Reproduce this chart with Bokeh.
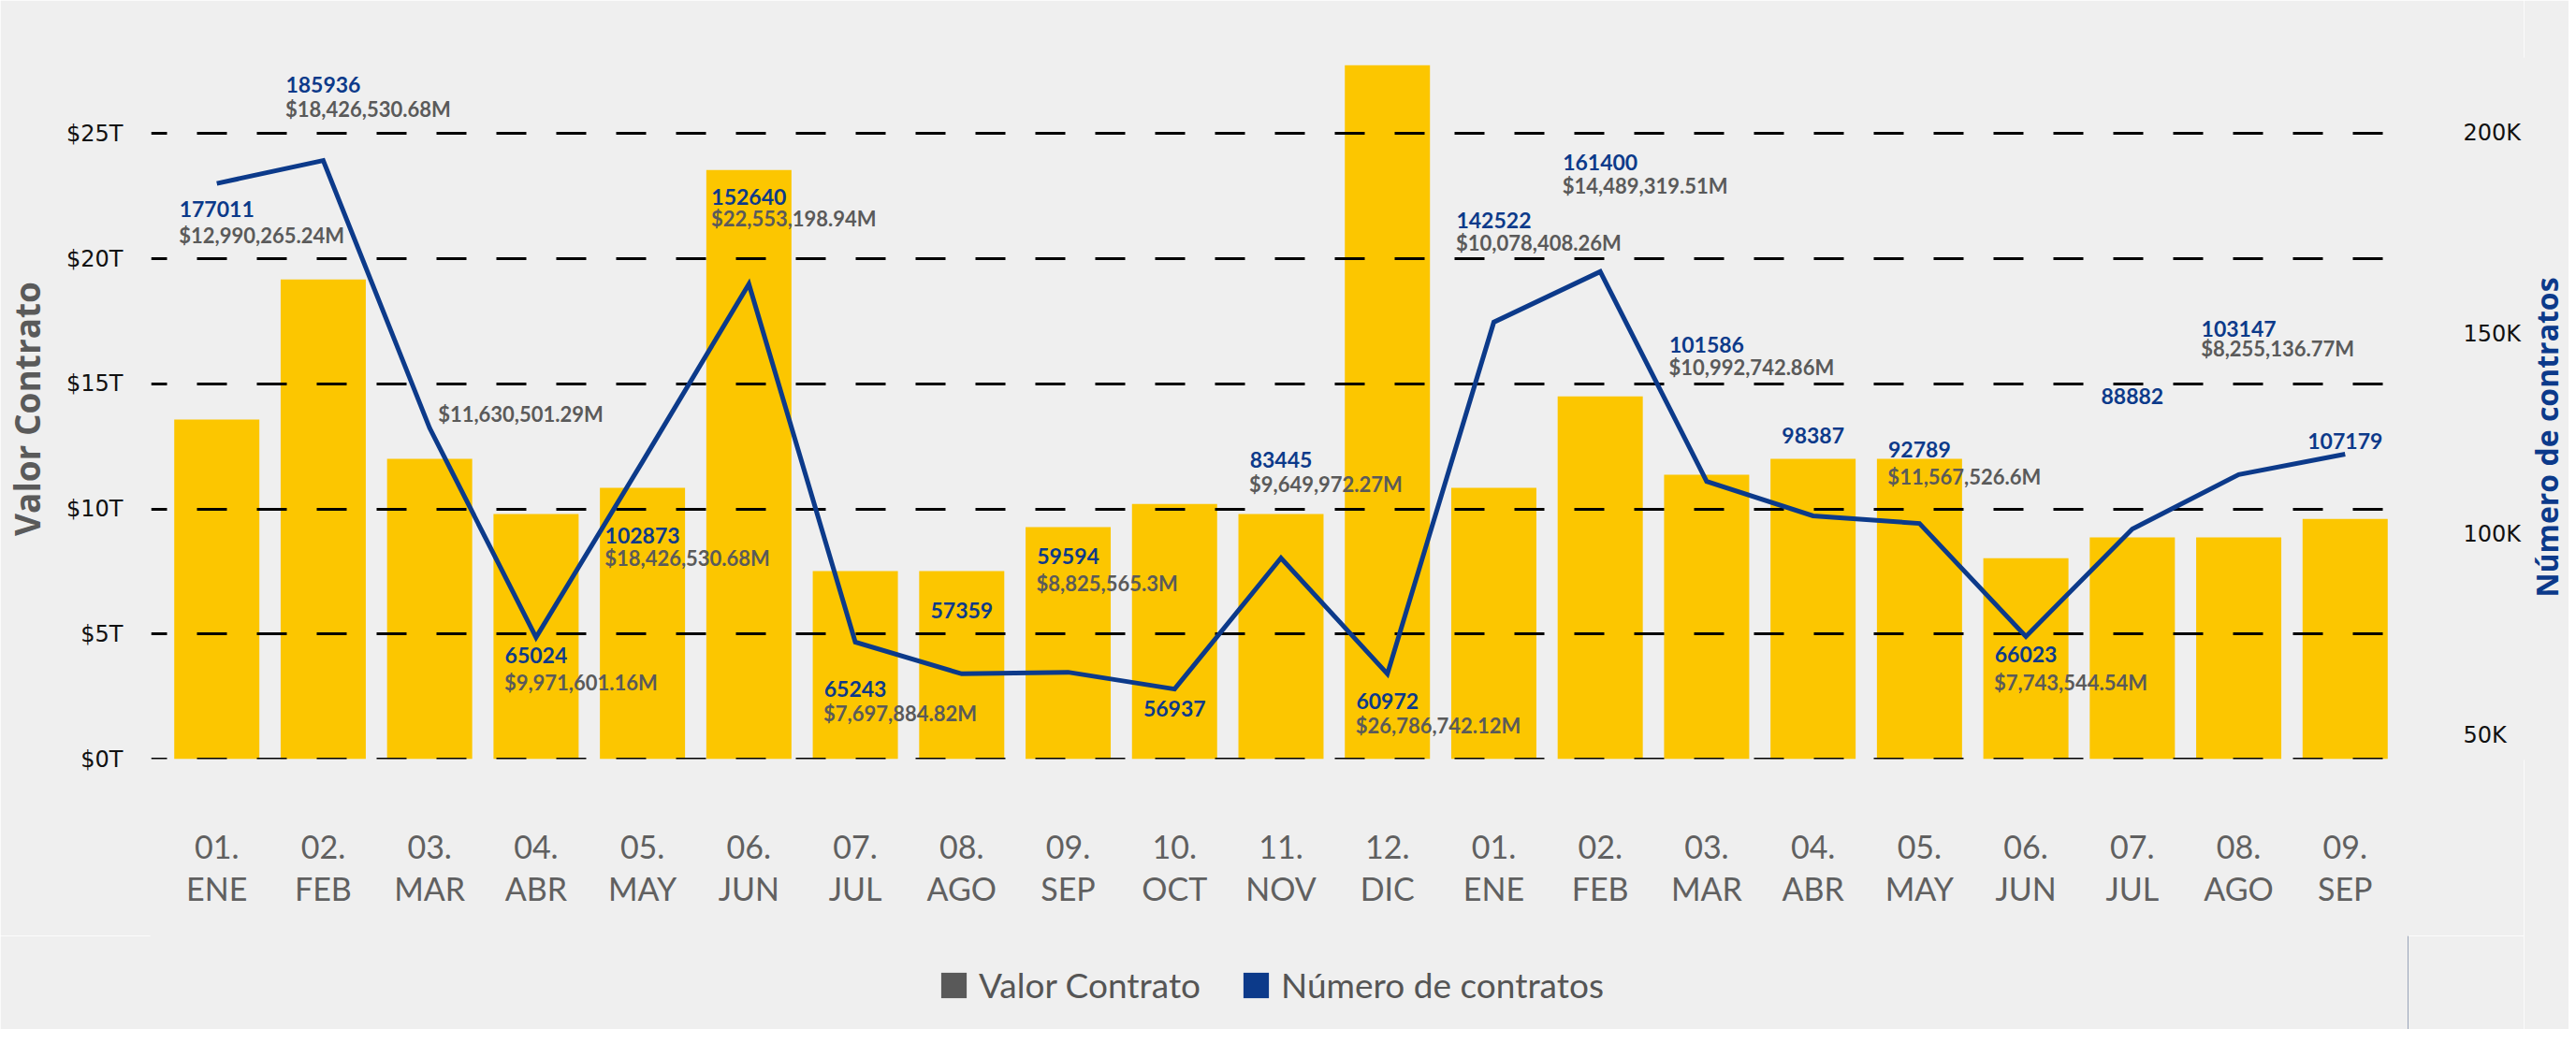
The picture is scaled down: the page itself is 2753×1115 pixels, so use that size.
import math
from bokeh.plotting import figure
from bokeh.layouts import column, row
from bokeh.models import (Range1d, LinearAxis, FixedTicker, ColumnDataSource,
                          Legend, LegendItem, Label)
from bokeh.core.properties import value
from bokeh.embed import file_html
from bokeh.resources import INLINE

# ---------------- data ----------------
months = ["01.\nENE", "02.\nFEB", "03.\nMAR", "04.\nABR", "05.\nMAY", "06.\nJUN",
          "07.\nJUL", "08.\nAGO", "09.\nSEP", "10.\nOCT", "11.\nNOV", "12.\nDIC",
          "01.\nENE", "02.\nFEB", "03.\nMAR", "04.\nABR", "05.\nMAY", "06.\nJUN",
          "07.\nJUL", "08.\nAGO", "09.\nSEP"]

# Valor Contrato (trillions)
valor_contrato = [13.57, 19.17, 12.00, 9.79, 10.84, 23.54, 7.51, 7.51, 9.27, 10.20, 9.79,
                  27.73, 10.84, 14.50, 11.36, 12.00, 12.00, 8.03, 8.86, 8.86, 9.60]

num_contratos = [187500, 193200, 126500, 74300, 118100, 162400, 73100, 65200, 65600,
                 61400, 94100, 65200, 152900, 165500, 113200, 104600, 102700, 74500,
                 101300, 114900, 120000]

count_labels = ["177011", "185936", "", "65024", "102873", "152640", "65243", "57359",
                "59594", "56937", "83445", "60972", "142522", "161400", "101586",
                "98387", "92789", "66023", "88882", "103147", "107179"]

value_labels = ["$12,990,265.24M", "$18,426,530.68M", "$11,630,501.29M", "$9,971,601.16M",
                "$18,426,530.68M", "$22,553,198.94M", "$7,697,884.82M", "",
                "$8,825,565.3M", "", "$9,649,972.27M", "$26,786,742.12M",
                "$10,078,408.26M", "$14,489,319.51M", "$10,992,742.86M", "",
                "$11,567,526.6M", "$7,743,544.54M", "", "$8,255,136.77M", ""]

left_ticks = [0, 5, 10, 15, 20, 25]
left_tick_labels = ["$0T", "$5T", "$10T", "$15T", "$20T", "$25T"]
right_ticks = [50000, 100000, 150000, 200000]
right_tick_labels = ["50K", "100K", "150K", "200K"]

legend_labels = ["Valor Contrato", "Número de contratos"]
right_title = "Número de contratos"

# ---------------- style ----------------
BG = "#EFEFEF"
YELLOW = "#FCC600"
BLUE = "#0C3A8A"
GRAY = "#5A5A5A"
LEGEND_COLORS = ["#595959", BLUE]

# label offsets in pixels (screen, positive = down) relative to line points
count_dy = [27, -81, 0, 19, 79, -93, 50, -68, -124, 21, -105, 29, -109, -117, -146,
            -86, -79, 19, -142, -156, -14]
value_dy = [55, -55, -15, 48, 103, -70, 76, 0, -95, 0, -79, 55, -85, -92, -122,
            0, -50, 49, 0, -135, 0]
value_dx = [(-6.4 * len(c) - 2) if c else 9 for c in count_labels]

W_TITLE = 48
W = 2745 - W_TITLE
H1, H2 = 1000, 100
ML, MT = 157, 62
FRAME_W, FRAME_H = 2422, 749
MR = W - ML - FRAME_W
MB = H1 - MT - FRAME_H

x_start, x_end = -0.6173, 20.591
y_left = (0, 28)
y_right = (43940, 218660)

def px_y(py):
    # page pixel row -> left-axis data value (frame spans page rows 70..819)
    return y_left[0] + (819 - py) * (y_left[1] - y_left[0]) / FRAME_H

def styled(fig):
    fig.background_fill_color = BG
    fig.border_fill_color = BG
    fig.outline_line_color = BG      # hides anti-aliasing seams at the frame edge
    fig.outline_line_width = 2
    fig.xgrid.visible = False
    fig.ygrid.visible = False
    return fig

p = styled(figure(width=W, height=H1, x_range=Range1d(x_start, x_end),
                  y_range=Range1d(*y_left), output_backend="svg", toolbar_location=None,
                  min_border_left=ML, min_border_right=MR, min_border_top=MT,
                  min_border_bottom=MB))
p.extra_y_ranges = {"cnt": Range1d(*y_right)}

xs = list(range(len(months)))
src = ColumnDataSource(dict(x=xs, valor=valor_contrato, cnt=num_contratos,
                            clab=count_labels, vlab=value_labels,
                            cdy=count_dy, vdy=value_dy, vdx=value_dx))

p.vbar(x="x", top="valor", width=0.8, source=src, fill_color=YELLOW, line_color=None)

p.hspan(y=left_ticks, line_color="black", line_width=3, line_dash="32 32",
        line_dash_offset=15)

p.line(x="x", y="cnt", source=src, y_range_name="cnt", line_color=BLUE,
       line_width=5, line_join="miter")

p.text(x="x", y="cnt", text="clab", source=src, y_range_name="cnt",
       y_offset="cdy", text_align="center", text_baseline="middle",
       text_font=value("Lato"), text_font_style="bold", text_font_size="23px",
       text_color=BLUE)
p.text(x="x", y="cnt", text="vlab", source=src, y_range_name="cnt",
       x_offset="vdx", y_offset="vdy", text_align="left", text_baseline="middle",
       text_font=value("Lato"), text_font_style="bold", text_font_size="22px",
       text_color=GRAY)

# x axis
xa = p.xaxis[0]
xa.ticker = FixedTicker(ticks=xs)
xa.major_label_overrides = {i: m for i, m in enumerate(months)}
xa.axis_line_alpha = 0
xa.major_tick_line_alpha = 0
xa.minor_tick_line_alpha = 0
xa.major_label_standoff = 66
xa.major_label_text_font = "Lato"
xa.major_label_text_font_size = "34px"
xa.major_label_text_color = "#606060"
xa.major_label_text_line_height = 1.12

# left axis
ya = p.yaxis[0]
ya.ticker = FixedTicker(ticks=left_ticks)
ya.major_label_overrides = {t: l for t, l in zip(left_ticks, left_tick_labels)}
ya.axis_line_alpha = 0
ya.major_tick_line_alpha = 0
ya.minor_tick_line_alpha = 0
ya.major_label_standoff = 24
ya.major_label_text_font = "DejaVu Sans"
ya.major_label_text_font_size = "24px"
ya.major_label_text_color = "#111111"
ya.axis_label = "Valor Contrato"
ya.axis_label_standoff = 14
ya.axis_label_text_font = "Open Sans"
ya.axis_label_text_font_style = "bold"
ya.axis_label_text_font_size = "37px"
ya.axis_label_text_color = GRAY

# right axis
ra = LinearAxis(y_range_name="cnt", ticker=FixedTicker(ticks=right_ticks))
ra.major_label_overrides = {t: l for t, l in zip(right_ticks, right_tick_labels)}
ra.axis_line_alpha = 0
ra.major_tick_line_alpha = 0
ra.minor_tick_line_alpha = 0
ra.major_label_standoff = 53
ra.major_label_text_font = "DejaVu Sans"
ra.major_label_text_font_size = "24px"
ra.major_label_text_color = "#111111"
p.add_layout(ra, "right")

# ---------------- right-axis title strip ----------------
r = styled(figure(width=W_TITLE, height=H1 + H2, x_range=Range1d(0, W_TITLE),
                  y_range=Range1d(*y_left), output_backend="svg", toolbar_location=None,
                  min_border_left=0, min_border_right=0, min_border_top=MT,
                  min_border_bottom=MB + H2, x_axis_location=None, y_axis_location=None))
r.add_layout(Label(x=2, y=px_y(475), text=right_title, angle=math.pi / 2,
                   text_align="center", text_baseline="top",
                   text_font="Open Sans", text_font_style="bold",
                   text_font_size="32px", text_color=BLUE))

# ---------------- legend strip below the chart ----------------
q = styled(figure(width=W, height=H2, x_range=Range1d(0, 1), y_range=Range1d(0, 1),
                  output_backend="svg", toolbar_location=None, min_border=0,
                  x_axis_location=None, y_axis_location=None))
leg_src = ColumnDataSource(dict(x=[10], top=[1]))   # off-screen, legend swatches only
items = []
for lab, col in zip(legend_labels, LEGEND_COLORS):
    rr = q.vbar(x="x", top="top", width=0.5, source=leg_src, fill_color=col, line_color=None)
    items.append(LegendItem(label=lab, renderers=[rr]))
legend = Legend(items=items, location=(841, 25), orientation="horizontal",
                glyph_width=34, glyph_height=34, label_standoff=10, spacing=42,
                padding=0, margin=0, border_line_alpha=0, background_fill_alpha=0,
                label_text_font="Lato", label_text_font_size="37px",
                label_text_color="#555555")
q.add_layout(legend)

layout = row(column(p, q, spacing=0), r, spacing=0)
open("out.html", "w").write(file_html(layout, INLINE))
